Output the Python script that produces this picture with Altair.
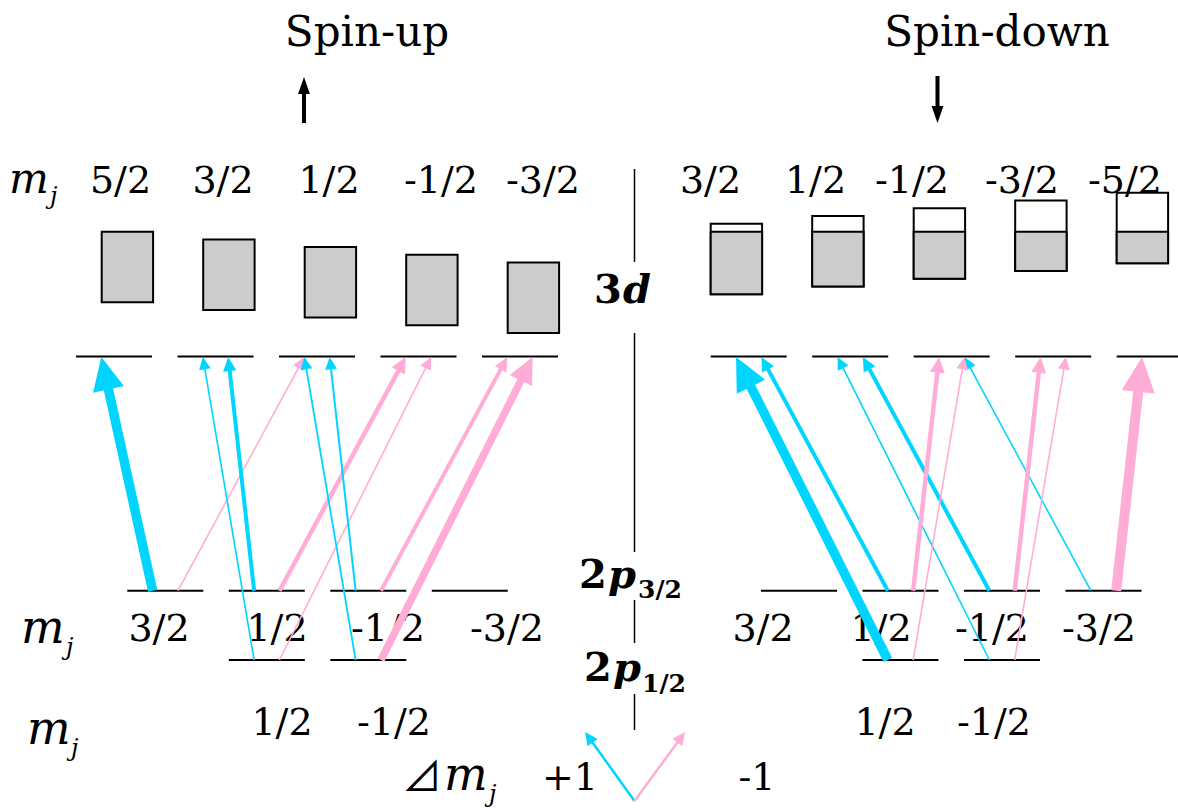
import math
import altair as alt
import pandas as pd

W, H = 1178, 808
CYAN, PINK, GRAY, INK = "#00D5FF", "#FFADD6", "#CCCCCC", "#000000"
SERIF = "DejaVu Serif"

# ---- m_j sublevels of each manifold ----
UP_3D = ["5/2", "3/2", "1/2", "-1/2", "-3/2"]
DOWN_3D = ["3/2", "1/2", "-1/2", "-3/2", "-5/2"]
P32 = ["3/2", "1/2", "-1/2", "-3/2"]
P12 = ["1/2", "-1/2"]

# ---- level energies on the diagram's vertical axis (top = high) ----
Y_3D, Y_P32, Y_P12 = 356.5, 590.7, 660.0

# 3d bands: top edge of every m_j band, band height and Fermi level
UP_BAND_TOP = [231.7, 239.4, 247.1, 254.8, 262.6]
DOWN_BAND_TOP = [223.7, 215.9, 208.2, 200.4, 192.7]
BAND_HEIGHT = 70.5
FERMI = 231.7

# ---- dipole transitions ----
# (lower manifold, lower m_j, upper 3d m_j, slot on the 3d level, relative strength as line width)
UP_TRANSITIONS = [
    ("2p3/2", "3/2", "5/2", 1, 9.5),
    ("2p3/2", "3/2", "1/2", 1, 1.6),
    ("2p1/2", "1/2", "3/2", 1, 1.6),
    ("2p3/2", "1/2", "3/2", 2, 4.0),
    ("2p3/2", "1/2", "-1/2", 1, 4.5),
    ("2p1/2", "1/2", "-1/2", 2, 1.6),
    ("2p1/2", "-1/2", "1/2", 1, 1.8),
    ("2p3/2", "-1/2", "1/2", 2, 2.0),
    ("2p3/2", "-1/2", "-3/2", 1, 4.0),
    ("2p1/2", "-1/2", "-3/2", 2, 7.5),
]
DOWN_TRANSITIONS = [
    ("2p1/2", "1/2", "3/2", 1, 9.5),
    ("2p3/2", "1/2", "3/2", 2, 4.0),
    ("2p1/2", "-1/2", "1/2", 1, 1.6),
    ("2p3/2", "-1/2", "1/2", 2, 4.0),
    ("2p3/2", "-3/2", "-1/2", 2, 1.6),
    ("2p3/2", "1/2", "-1/2", 1, 4.5),
    ("2p1/2", "1/2", "-1/2", 2, 1.6),
    ("2p3/2", "-1/2", "-3/2", 1, 4.5),
    ("2p1/2", "-1/2", "-3/2", 2, 1.6),
    ("2p3/2", "-3/2", "-5/2", 1, 10.0),
]

# ---- layout ----
PITCH = 101.5        # spacing between m_j columns
LEVEL_LEN = 76.0     # length of a level line
BOX_W = 51.4
SIDES = {
    "up": dict(x3d=76.0, x2p=127.3, box_dx=25.7, mj=UP_3D, band=UP_BAND_TOP, trans=UP_TRANSITIONS),
    "down": dict(x3d=710.7, x2p=761.0, box_dx=0.0, mj=DOWN_3D, band=DOWN_BAND_TOP, trans=DOWN_TRANSITIONS),
}
TOP_ROW = dict(y=193, up=[120.5, 223, 329, 441, 543], down=[710.5, 815.5, 912, 1022, 1125])
MID_ROW = dict(y=641, up=[159, 277, 388, 507], down=[763, 881, 992, 1099])
BOT_ROW = dict(y=735, up=[282, 394], down=[885, 994])
DIVIDER_X = 634.5
DIVIDER_SEGMENTS = [(169, 262), (333, 552), (600, 643), (694, 730)]

HEAD = "M0,0L0.95,2L-0.95,2Z"      # arrow head, tip at the anchor point
SPIN_HEAD = "M0,0L0.7,2L-0.7,2Z"


def frac(s):
    a, b = s.split("/")
    return float(a) / float(b)


def X(f):
    return alt.X(f"{f}:Q", scale=alt.Scale(domain=[0, W], nice=False, zero=False), axis=None)


def Y(f):
    return alt.Y(f"{f}:Q", scale=alt.Scale(domain=[0, H], reverse=True, nice=False, zero=False), axis=None)


levels, boxes, shafts, heads = [], [], [], []


def arrow(x0, y0, x1, y1, sw, color, head_len=None):
    dx, dy = x1 - x0, y1 - y0
    n = math.hypot(dx, dy)
    ux, uy = dx / n, dy / n
    hl = head_len if head_len else max(12.5, 3.5 * sw)
    shafts.append(dict(x=x0, y=y0, x2=x1 - ux * hl * 0.8, y2=y1 - uy * hl * 0.8, sw=sw, c=color))
    ang = (math.degrees(math.atan2(dx, -dy)) + 360) % 360
    heads.append(dict(x=x1, y=y1, a=ang, s=hl * hl, c=color))


for side in SIDES.values():
    for k, mj in enumerate(side["mj"]):
        x0 = side["x3d"] + PITCH * k
        levels.append(dict(x=x0, x2=min(x0 + LEVEL_LEN, W), y=Y_3D))
        bx = x0 + side["box_dx"]
        top = side["band"][k]
        bottom = top + BAND_HEIGHT
        if top < FERMI:
            boxes.append(dict(x=bx, x2=bx + BOX_W, y=top, y2=bottom, f="#FFFFFF"))
            boxes.append(dict(x=bx, x2=bx + BOX_W, y=FERMI, y2=bottom, f=GRAY))
        else:
            boxes.append(dict(x=bx, x2=bx + BOX_W, y=top, y2=bottom, f=GRAY))
    for k, mj in enumerate(P32):
        x0 = side["x2p"] + PITCH * k
        levels.append(dict(x=x0, x2=x0 + LEVEL_LEN, y=Y_P32))
        if mj in P12:
            levels.append(dict(x=x0, x2=x0 + LEVEL_LEN, y=Y_P12))
    for lower, mj_lo, mj_up, slot, sw in side["trans"]:
        dm = frac(mj_up) - frac(mj_lo)
        color = CYAN if dm > 0 else PINK
        lo_slot = 1 if dm > 0 else 2
        xs = side["x2p"] + PITCH * P32.index(mj_lo) + LEVEL_LEN * lo_slot / 3
        ys = Y_P32 if lower == "2p3/2" else Y_P12
        xt = side["x3d"] + PITCH * side["mj"].index(mj_up) + LEVEL_LEN * slot / 3
        arrow(xs, ys, xt, Y_3D + 0.5, sw, color)

# selection-rule legend: Δm_j = +1 and -1
arrow(634.5, 801, 585, 732, 2.5, CYAN, head_len=13)
arrow(634.5, 801, 685, 732, 2.5, PINK, head_len=13)

# spin arrows
spin_shafts = pd.DataFrame([
    dict(x=304, y=123, y2=92),
    dict(x=937.5, y=76, y2=107),
])
spin_heads = pd.DataFrame([
    dict(x=304, y=77, a=0),
    dict(x=937.5, y=123, a=180),
])

# ---- text ----
numbers = []
for row, (left, right) in ((TOP_ROW, (UP_3D, DOWN_3D)), (MID_ROW, (P32, P32)), (BOT_ROW, (P12, P12))):
    for t, x in zip(left, row["up"]):
        numbers.append(dict(x=x, y=row["y"], t=t))
    for t, x in zip(right, row["down"]):
        numbers.append(dict(x=x, y=row["y"], t=t))
numbers.append(dict(x=570, y=790, t="+1"))
numbers.append(dict(x=757, y=790, t="-1"))

titles = pd.DataFrame([
    dict(x=367, y=46, t="Spin-up"),
    dict(x=997, y=46, t="Spin-down"),
])
m_big = pd.DataFrame([
    dict(x=9, y=193, t="m", s=42),
    dict(x=21, y=643, t="m", s=46),
    dict(x=27, y=744, t="m", s=46),
    dict(x=444, y=790, t="m", s=46),
])
m_sub = pd.DataFrame([
    dict(x=50, y=204, t="j"),
    dict(x=66, y=655, t="j"),
    dict(x=71, y=756, t="j"),
    dict(x=489, y=802, t="j"),
])
shell_digit = pd.DataFrame([
    dict(x=594, y=303, t="3"),
    dict(x=579, y=588, t="2"),
    dict(x=584, y=681, t="2"),
])
shell_letter = pd.DataFrame([
    dict(x=623, y=303, t="d"),
    dict(x=608, y=588, t="p"),
    dict(x=613, y=681, t="p"),
])
shell_sub = pd.DataFrame([
    dict(x=638, y=598, t="3/2"),
    dict(x=642, y=692, t="1/2"),
])
delta = pd.DataFrame([dict(x=402, y=791, t="⊿")])

divider = pd.DataFrame([dict(x=DIVIDER_X, y=a, y2=b) for a, b in DIVIDER_SEGMENTS])

# ---- layers ----
box_layer = alt.Chart(pd.DataFrame(boxes)).mark_rect(stroke=INK, strokeWidth=2).encode(
    x=X("x"), x2="x2", y=Y("y"), y2="y2", fill=alt.Fill("f:N", scale=None))
level_layer = alt.Chart(pd.DataFrame(levels)).mark_rule(color=INK, strokeWidth=2).encode(
    x=X("x"), x2="x2", y=Y("y"))
divider_layer = alt.Chart(divider).mark_rule(color=INK, strokeWidth=1.5).encode(
    x=X("x"), y=Y("y"), y2="y2")


def text_layer(df, size, align="center", style="normal", weight="normal", font=SERIF):
    return alt.Chart(df).mark_text(
        align=align, baseline="alphabetic", font=font, fontSize=size,
        fontStyle=style, fontWeight=weight, color=INK,
    ).encode(x=X("x"), y=Y("y"), text="t:N")


text_layers = [
    text_layer(pd.DataFrame(numbers), 38),
    text_layer(titles, 42),
    alt.Chart(m_big).mark_text(align="left", baseline="alphabetic", font=SERIF,
                               fontStyle="italic", color=INK).encode(
        x=X("x"), y=Y("y"), text="t:N", size=alt.Size("s:Q", scale=None)),
    text_layer(m_sub, 24, align="left", style="italic"),
    text_layer(shell_digit, 40, align="left", weight="bold"),
    text_layer(shell_letter, 40, align="left", style="italic", weight="bold"),
    text_layer(shell_sub, 25, align="left", weight="bold"),
    text_layer(delta, 40, align="left", font="Noto Sans CJK JP"),
]

shaft_layer = alt.Chart(pd.DataFrame(shafts)).mark_rule(strokeCap="butt").encode(
    x=X("x"), y=Y("y"), x2="x2", y2="y2",
    color=alt.Color("c:N", scale=None), strokeWidth=alt.StrokeWidth("sw:Q", scale=None))
head_layer = alt.Chart(pd.DataFrame(heads)).mark_point(
    shape=HEAD, filled=True, opacity=1, strokeWidth=0).encode(
    x=X("x"), y=Y("y"), angle=alt.Angle("a:Q", scale=None),
    size=alt.Size("s:Q", scale=None), color=alt.Color("c:N", scale=None))

spin_shaft_layer = alt.Chart(spin_shafts).mark_rule(color=INK, strokeWidth=4).encode(
    x=X("x"), y=Y("y"), y2="y2")
spin_head_layer = alt.Chart(spin_heads).mark_point(
    shape=SPIN_HEAD, filled=True, opacity=1, strokeWidth=0, size=289, color=INK).encode(
    x=X("x"), y=Y("y"), angle=alt.Angle("a:Q", scale=None))

chart = alt.layer(
    box_layer, level_layer, divider_layer, *text_layers,
    shaft_layer, head_layer, spin_shaft_layer, spin_head_layer,
).properties(
    width=W, height=H, padding=0, autosize=alt.AutoSizeParams(type="none"),
).configure_view(stroke=None)

chart.save("out.html", embed_options={"renderer": "svg", "actions": False})
